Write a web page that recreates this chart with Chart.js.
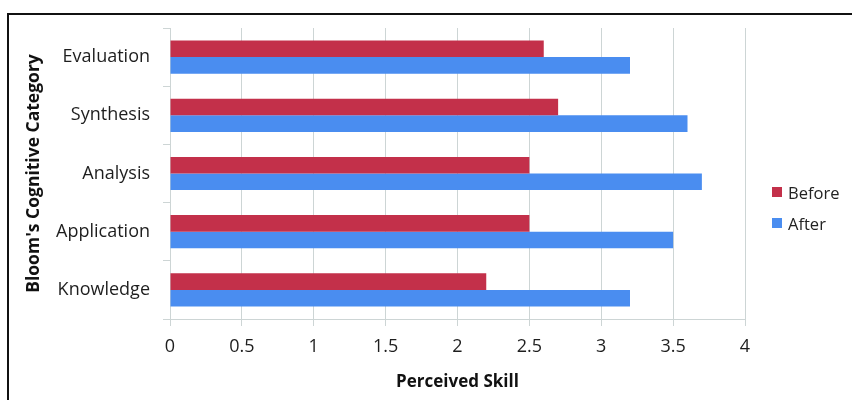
<!DOCTYPE html>
<html>
<head>
<meta charset="utf-8">
<title>Perceived Skill by Bloom's Cognitive Category</title>
<script src="https://cdn.jsdelivr.net/npm/chart.js@4/dist/chart.umd.min.js"></script>
<style>
  html, body { margin: 0; padding: 0; background: #fff; overflow: hidden; }
  #wrap { position: relative; width: 852px; height: 400px; }
  #frame {
    position: absolute; left: 7px; top: 13px; width: 900px; height: 500px;
    border: 2px solid #111; pointer-events: none; box-sizing: border-box;
  }
  #legend {
    position: absolute; left: 772px; top: 182px; margin: 0; padding: 0;
    list-style: none; font-family: "Open Sans", sans-serif; font-size: 16.5px; color: #222;
  }
  #legend li { display: flex; align-items: center; height: 20px; margin-bottom: 11px; }
  #legend span.box { display: inline-block; width: 10px; height: 10px; margin-right: 6px; }
</style>
</head>
<body>
<div id="wrap">
  <canvas id="chart" width="852" height="400"></canvas>
  <div id="frame"></div>
  <ul id="legend"></ul>
</div>
<script>
const categories = ['Evaluation', 'Synthesis', 'Analysis', 'Application', 'Knowledge'];
const beforeValues = [2.6, 2.7, 2.5, 2.5, 2.2];
const afterValues = [3.2, 3.6, 3.7, 3.5, 3.2];
const seriesNames = ['Before', 'After'];
const seriesColors = ['#C3304A', '#4A8DF0'];
const xTicks = [0, 0.5, 1, 1.5, 2, 2.5, 3, 3.5, 4];

const FONT = '"Open Sans", sans-serif';
const gridColor = '#cdd5d5';

// Builds an HTML legend from the chart's datasets
const htmlLegend = {
  id: 'htmlLegend',
  afterUpdate(chart) {
    const ul = document.getElementById('legend');
    ul.innerHTML = '';
    chart.data.datasets.forEach(ds => {
      const li = document.createElement('li');
      const box = document.createElement('span');
      box.className = 'box';
      box.style.background = ds.backgroundColor;
      li.appendChild(box);
      li.appendChild(document.createTextNode(ds.label));
      ul.appendChild(li);
    });
  }
};

new Chart(document.getElementById('chart'), {
  type: 'bar',
  data: {
    labels: categories,
    datasets: [
      { label: seriesNames[0], data: beforeValues, backgroundColor: seriesColors[0] },
      { label: seriesNames[1], data: afterValues, backgroundColor: seriesColors[1] }
    ]
  },
  options: {
    indexAxis: 'y',
    responsive: false,
    animation: false,
    layout: { padding: { top: 28, right: 107, bottom: 0, left: 18 } },
    datasets: { bar: { barPercentage: 1, categoryPercentage: 0.57, borderWidth: 0 } },
    plugins: {
      legend: { display: false },
      tooltip: { enabled: false }
    },
    scales: {
      x: {
        type: 'linear',
        min: 0,
        max: 4,
        afterBuildTicks(scale) { scale.ticks = xTicks.map(v => ({ value: v })); },
        afterFit(scale) { scale.height = 81; },
        grid: { color: gridColor, tickColor: gridColor, tickLength: 7, drawTicks: true },
        border: { color: gridColor },
        ticks: {
          font: { family: FONT, size: 18 }, color: '#1e1e1e', padding: 10,
          callback: v => String(v)
        },
        title: {
          display: true, text: 'Perceived Skill', color: '#111',
          font: { family: FONT, size: 17, weight: 'bold' },
          padding: { top: 0, bottom: 8 }
        }
      },
      y: {
        afterFit(scale) { scale.width = 152; },
        grid: { drawOnChartArea: false, drawTicks: true, tickLength: 7, tickColor: gridColor, offset: true },
        border: { color: gridColor },
        ticks: { font: { family: FONT, size: 18 }, color: '#1e1e1e', padding: 13 },
        title: {
          display: true, text: "Bloom's Cognitive Category", color: '#111',
          font: { family: FONT, size: 17.5, weight: 'bold' },
          padding: { top: 6, bottom: 0 }
        }
      }
    }
  },
  plugins: [htmlLegend]
});
</script>
</body>
</html>
